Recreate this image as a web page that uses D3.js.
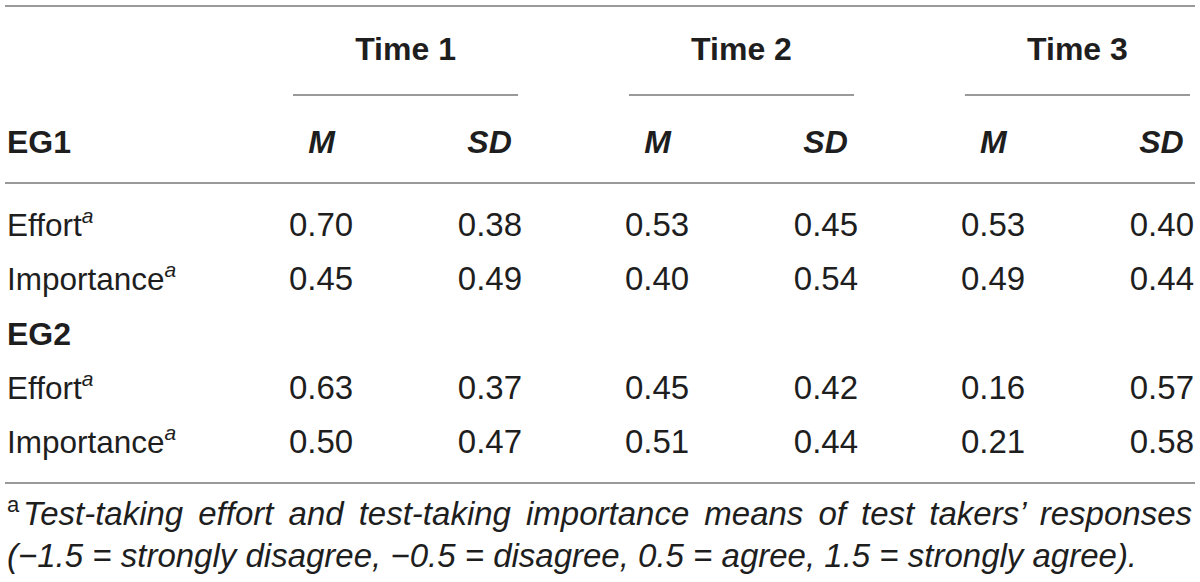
<!DOCTYPE html>
<html>
<head>
<meta charset="utf-8">
<script src="https://cdn.jsdelivr.net/npm/d3@7"></script>
<style>
  body { margin: 0; background: #fff; }
  text { font-family: "Liberation Sans", Arial, sans-serif; fill: #1e1e1e; }
</style>
</head>
<body>
<div id="table_div"></div>
<script>
var times = ["Time 1", "Time 2", "Time 3"];
var stats = ["M", "SD"];
var groups = ["EG1", "EG2"];
var measures = ["Effort", "Importance"];
// [measure][time]
var eg1Means = [[0.70, 0.53, 0.53], [0.45, 0.40, 0.49]];
var eg1Sds   = [[0.38, 0.45, 0.40], [0.49, 0.54, 0.44]];
var eg2Means = [[0.63, 0.45, 0.16], [0.50, 0.51, 0.21]];
var eg2Sds   = [[0.37, 0.42, 0.57], [0.47, 0.44, 0.58]];
var footnoteMark = "a";
var footnoteLines = [
  "Test-taking effort and test-taking importance means of test takers\u2019 responses",
  "(\u22121.5 = strongly disagree, \u22120.5 = disagree, 0.5 = agree, 1.5 = strongly agree)."
];

var width = 1200, height = 582;
var svg = d3.select("#table_div").append("svg")
    .attr("width", width)
    .attr("height", height);

var fmt = d3.format(".2f");
var numW = 65;   // approx width of "0.00"

var x = d3.scaleBand()
    .domain(times)
    .range([293, 1190])
    .paddingInner(0.33);

// body rows
var rowKeys = ["EG1-Effort", "EG1-Importance", "EG2", "EG2-Effort", "EG2-Importance"];
var y = d3.scalePoint()
    .domain(rowKeys)
    .range([236, 453]);

var rule = "#9a9a9a";
function hline(x1, x2, yy) {
  svg.append("line")
    .attr("x1", x1).attr("x2", x2)
    .attr("y1", yy).attr("y2", yy)
    .attr("stroke", rule)
    .attr("stroke-width", 2);
}

hline(5, 1195, 6);
hline(5, 1195, 183);
hline(5, 1195, 483);

// time headers
var th = svg.selectAll(".time").data(times).join("g").attr("class", "time");
th.append("text")
  .attr("x", d => x(d) + x.bandwidth() / 2)
  .attr("y", 60)
  .attr("text-anchor", "middle")
  .style("font-weight", "bold")
  .style("font-size", "32px")
  .text(d => d);
th.append("line")
  .attr("x1", d => x(d))
  .attr("x2", d => x(d) + x.bandwidth())
  .attr("y1", 95).attr("y2", 95)
  .attr("stroke", rule)
  .attr("stroke-width", 2);

// column edges: M left aligned, SD right aligned
function mLeft(t) { return x(t) - 4; }
function sdRight(t) { return x(t) + x.bandwidth() + 4; }

// stat headers, centred over the number columns
times.forEach(function(t) {
  svg.selectAll(null).data(stats).join("text")
    .attr("x", (d, i) => i == 0 ? mLeft(t) + numW / 2 : sdRight(t) - numW / 2)
    .attr("y", 153)
    .attr("text-anchor", "middle")
    .style("font-weight", "bold")
    .style("font-style", "italic")
    .style("font-size", "32px")
    .text(d => d);
});

svg.append("text")
  .attr("x", 7).attr("y", 153)
  .style("font-weight", "bold")
  .style("font-size", "32px")
  .text(groups[0]);

svg.append("text")
  .attr("x", 7).attr("y", y("EG2"))
  .style("font-weight", "bold")
  .style("font-size", "32px")
  .text(groups[1]);

function drawGroup(g, means, sds) {
  measures.forEach(function(m, mi) {
    var yy = y(g + "-" + m);
    var lab = svg.append("text")
      .attr("x", 7).attr("y", yy)
      .style("font-size", "31.5px")
      .text(m);
    lab.append("tspan")
      .attr("dy", -13)
      .style("font-size", "21px")
      .style("font-style", "italic")
      .text("a");

    svg.selectAll(null).data(times).join("text")
      .attr("x", d => mLeft(d))
      .attr("y", yy)
      .style("font-size", "33px")
      .text((d, i) => fmt(means[mi][i]));
    svg.selectAll(null).data(times).join("text")
      .attr("x", d => sdRight(d))
      .attr("y", yy)
      .attr("text-anchor", "end")
      .style("font-size", "33px")
      .text((d, i) => fmt(sds[mi][i]));
  });
}
drawGroup("EG1", eg1Means, eg1Sds);
drawGroup("EG2", eg2Means, eg2Sds);

// footnote
svg.append("text")
  .attr("x", 7).attr("y", 512)
  .style("font-size", "22px")
  .text(footnoteMark);

var f1 = svg.append("text")
  .attr("x", 23).attr("y", 525)
  .style("font-size", "33px")
  .style("font-style", "italic")
  .text(footnoteLines[0]);
// justify first line to the right edge
var natural = f1.node().getComputedTextLength();
var spaces = footnoteLines[0].split(" ").length - 1;
f1.style("word-spacing", Math.max(0, (1192 - 23 - natural) / spaces) + "px");

svg.append("text")
  .attr("x", 7).attr("y", 567)
  .style("font-size", "33px")
  .style("font-style", "italic")
  .text(footnoteLines[1]);
</script>
</body>
</html>
